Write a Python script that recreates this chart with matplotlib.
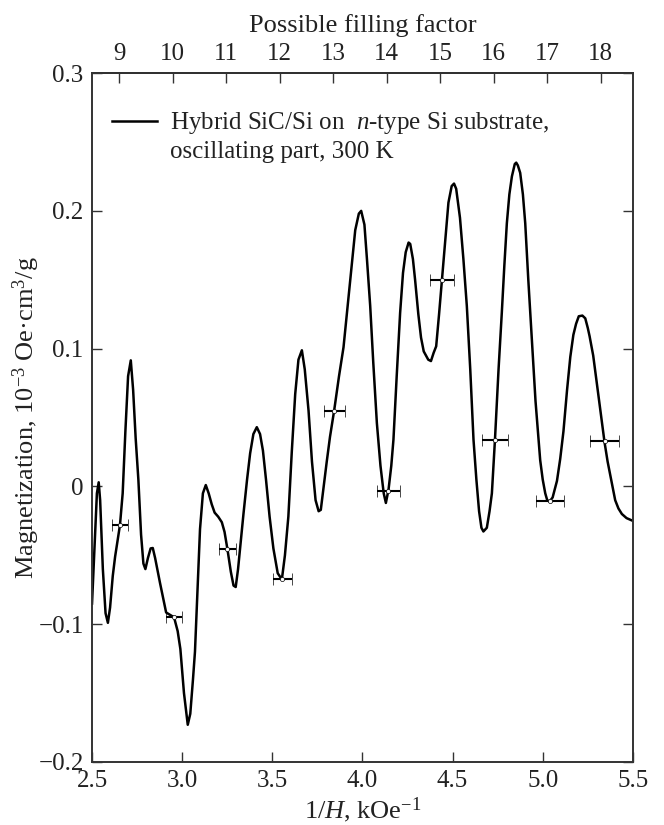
import matplotlib
matplotlib.use("Agg")
import matplotlib.pyplot as plt
import numpy as np

# Oscillating part of magnetization vs 1/H
inv_h = [2.500, 2.515, 2.527, 2.537, 2.545, 2.560, 2.575, 2.588, 2.600, 2.615,
         2.628, 2.655, 2.670, 2.685, 2.700, 2.715, 2.728, 2.742, 2.757, 2.772,
         2.785, 2.796, 2.810, 2.825, 2.837, 2.850, 2.877, 2.911, 2.955, 2.975,
         2.990, 3.010, 3.031, 3.045, 3.060, 3.071, 3.085, 3.099, 3.115, 3.131,
         3.147, 3.164, 3.180, 3.200, 3.220, 3.235, 3.251, 3.270, 3.285, 3.297,
         3.310, 3.325, 3.340, 3.360, 3.377, 3.395, 3.414, 3.432, 3.448, 3.465,
         3.485, 3.506, 3.530, 3.553, 3.570, 3.589, 3.608, 3.627, 3.645, 3.664,
         3.680, 3.701, 3.720, 3.740, 3.757, 3.769, 3.785, 3.802, 3.820, 3.843,
         3.870, 3.895, 3.925, 3.960, 3.980, 3.993, 4.011, 4.025, 4.043, 4.060,
         4.080, 4.100, 4.118, 4.130, 4.145, 4.160, 4.172, 4.190, 4.209, 4.225,
         4.240, 4.256, 4.265, 4.280, 4.292, 4.310, 4.325, 4.340, 4.365, 4.380,
         4.395, 4.409, 4.425, 4.441, 4.460, 4.477, 4.495, 4.508, 4.520, 4.541,
         4.560, 4.579, 4.598, 4.616, 4.632, 4.647, 4.660, 4.671, 4.690, 4.705,
         4.718, 4.735, 4.755, 4.773, 4.787, 4.801, 4.815, 4.829, 4.845, 4.853,
         4.862, 4.875, 4.890, 4.903, 4.920, 4.940, 4.960, 4.986, 5.000, 5.014,
         5.025, 5.038, 5.055, 5.079, 5.097, 5.115, 5.135, 5.153, 5.170, 5.185,
         5.200, 5.220, 5.236, 5.250, 5.260, 5.280, 5.298, 5.320, 5.343, 5.360,
         5.375, 5.390, 5.402, 5.420, 5.439, 5.465, 5.500]
magn = [-0.085, -0.040, -0.005, 0.003, -0.010, -0.060, -0.092, -0.099, -0.088, -0.065,
        -0.051, -0.028, -0.005, 0.040, 0.080, 0.0915, 0.070, 0.035, 0.005, -0.035,
        -0.056, -0.060, -0.052, -0.045, -0.0447, -0.052, -0.070, -0.0915, -0.095, -0.105,
        -0.118, -0.150, -0.173, -0.165, -0.140, -0.120, -0.075, -0.031, -0.005, 0.001,
        -0.005, -0.013, -0.019, -0.022, -0.026, -0.033, -0.0455, -0.062, -0.072, -0.073,
        -0.060, -0.040, -0.020, 0.005, 0.024, 0.038, 0.043, 0.038, 0.026, 0.005,
        -0.022, -0.045, -0.063, -0.0675, -0.050, -0.022, 0.025, 0.067, 0.092, 0.0988,
        0.085, 0.055, 0.018, -0.010, -0.018, -0.017, 0.000, 0.018, 0.036, 0.055,
        0.080, 0.101, 0.140, 0.186, 0.198, 0.200, 0.190, 0.165, 0.131, 0.090,
        0.046, 0.015, -0.005, -0.012, -0.002, 0.015, 0.034, 0.080, 0.126, 0.155,
        0.170, 0.177, 0.176, 0.165, 0.150, 0.125, 0.108, 0.098, 0.092, 0.091,
        0.097, 0.1017, 0.125, 0.150, 0.180, 0.206, 0.218, 0.2198, 0.216, 0.195,
        0.165, 0.131, 0.085, 0.034, 0.005, -0.018, -0.030, -0.0327, -0.030, -0.018,
        -0.005, 0.0337, 0.085, 0.126, 0.160, 0.191, 0.212, 0.225, 0.234, 0.235,
        0.233, 0.2276, 0.212, 0.191, 0.150, 0.1065, 0.062, 0.019, 0.005, -0.005,
        -0.010, -0.011, -0.008, 0.004, 0.020, 0.040, 0.070, 0.094, 0.110, 0.118,
        0.1235, 0.124, 0.122, 0.115, 0.109, 0.095, 0.077, 0.055, 0.032, 0.018,
        0.008, -0.002, -0.010, -0.016, -0.020, -0.023, -0.025]

# Points at integer filling factors with horizontal error bars
err_x = [2.655, 2.955, 3.251, 3.556, 3.843, 4.144, 4.441, 4.735, 5.042, 5.343]
err_y = [-0.028, -0.095, -0.0455, -0.0673, 0.055, -0.0036, 0.150, 0.0337, -0.0106, 0.0327]
err_dx = [0.043, 0.046, 0.049, 0.054, 0.059, 0.063, 0.068, 0.072, 0.078, 0.081]

x_ticks = [2.5, 3.0, 3.5, 4.0, 4.5, 5.0, 5.5]
x_labels = ["2.5", "3.0", "3.5", "4.0", "4.5", "5.0", "5.5"]
y_ticks = [-0.2, -0.1, 0.0, 0.1, 0.2, 0.3]
y_labels = ["\u22120.2", "\u22120.1", "0", "0.1", "0.2", "0.3"]
filling = [9, 10, 11, 12, 13, 14, 15, 16, 17, 18]
legend_lines = ["Hybrid SiC/Si on  $n$-type Si substrate,", "oscillating part, 300 K"]

# linear map between 1/H and filling factor
nu0, x_nu0, dx_nu = 9, 2.6496, 0.29677

plt.rcParams['font.family'] = ['Liberation Serif', 'DejaVu Serif']
plt.rcParams['font.size'] = 18
plt.rcParams['mathtext.fontset'] = 'custom'
plt.rcParams['mathtext.rm'] = 'Liberation Serif'
plt.rcParams['mathtext.it'] = 'Liberation Serif:italic'

TXT = '#222222'
fig = plt.figure(figsize=(6.64, 8.25), dpi=100)
ax = fig.add_axes([0.1386, 0.0764, 0.8145, 0.835])

ln, = ax.plot(inv_h, magn, color='black', lw=1.8)
ax.errorbar(err_x, err_y, xerr=err_dx, fmt='o', ms=3, mfc='white', mec='black',
            mew=0.5, ecolor='black', elinewidth=1.5, capsize=4, capthick=1.5)

ax.set_xlim(2.5, 5.5)
ax.set_ylim(-0.2, 0.3)
ax.set_xticks(x_ticks)
ax.set_xticklabels(x_labels)
ax.set_yticks(y_ticks)
ax.set_yticklabels(y_labels)
ax.tick_params(direction='in', length=7, width=1.0, color='#333333',
               top=False, right=True, labelcolor=TXT, pad=6)
for sp in ax.spines.values():
    sp.set_linewidth(1.4)
    sp.set_color('#333333')

ax.set_xlabel("1/$H$, kOe$^{-1}$", labelpad=2, color=TXT, fontsize=19)
ax.set_ylabel("Magnetization, 10$^{-3}$ Oe\u00b7cm$^3$/g", labelpad=-3,
              color=TXT, fontsize=19)

sec = ax.secondary_xaxis('top', functions=(lambda x: (x - x_nu0) / dx_nu + nu0,
                                           lambda n: (n - nu0) * dx_nu + x_nu0))
sec.set_xticks(filling)
sec.tick_params(direction='in', length=7, width=1.0, color='#333333',
                labelcolor=TXT, pad=6)
sec.spines['top'].set_linewidth(1.4)
sec.set_xlabel("Possible filling factor", labelpad=8, color=TXT, fontsize=19)

# legend: handle beside first line only, second line without handle
blank, = ax.plot([], [], color='none')
leg = ax.legend([ln, blank], legend_lines, loc='upper left', frameon=False,
                handlelength=1.8, handletextpad=0.5, labelspacing=0.15,
                borderaxespad=0.4, bbox_to_anchor=(0.0, 0.975))
for t in leg.get_texts():
    t.set_color(TXT)

fig.savefig("out.png", dpi=100)
